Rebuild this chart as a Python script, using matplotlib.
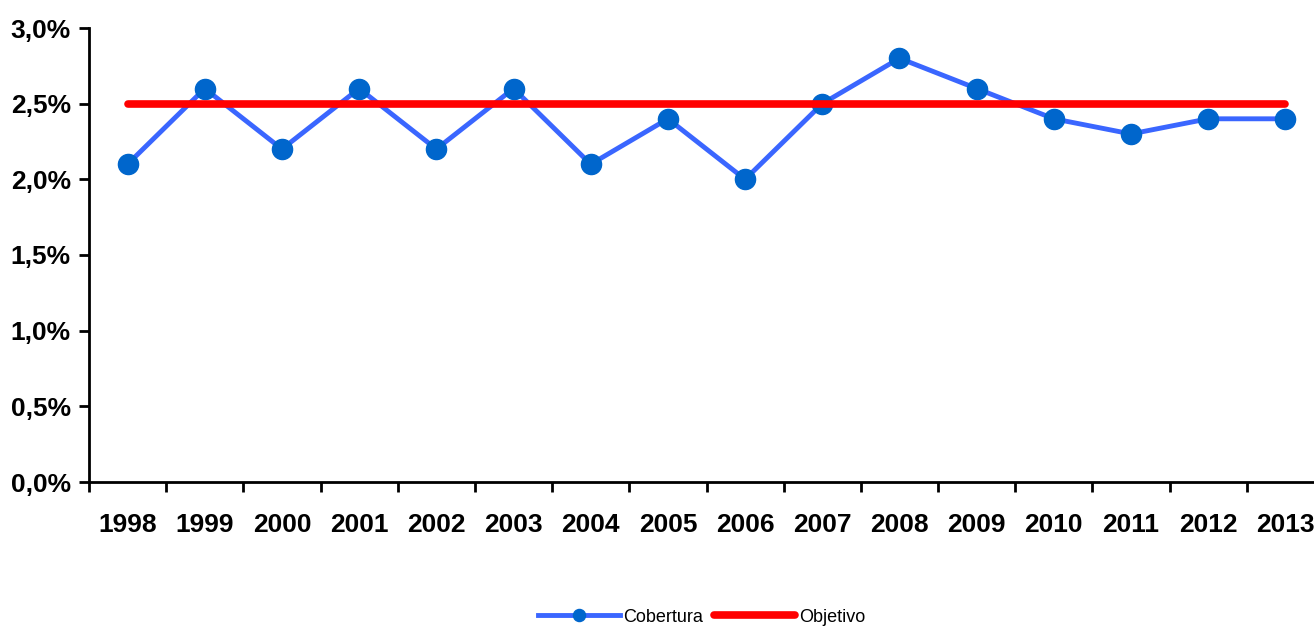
import matplotlib.pyplot as plt
from matplotlib.ticker import FuncFormatter

plt.rcParams['font.family'] = ['Liberation Sans', 'DejaVu Sans']

# Data
years = ['1998', '1999', '2000', '2001', '2002', '2003', '2004', '2005',
         '2006', '2007', '2008', '2009', '2010', '2011', '2012', '2013']
cobertura = [2.1, 2.6, 2.2, 2.6, 2.2, 2.6, 2.1, 2.4, 2.0, 2.5, 2.8, 2.6, 2.4, 2.3, 2.4, 2.4]
objetivo = [2.5] * len(years)

fig = plt.figure(figsize=(13.14, 6.3), dpi=100)
ax = fig.add_axes([89 / 1314, 148 / 630, 1235 / 1314, 454 / 630])

x = range(len(years))
ax.plot(x, cobertura, color='#3A66FF', lw=3.5, marker='o', markersize=14.5,
        markerfacecolor='#0066CC', markeredgecolor='#0066CC', label='Cobertura', zorder=3)
ax.plot(x, objetivo, color='#FF0000', lw=5.5, solid_capstyle='round', label='Objetivo', zorder=4)

ax.set_xlim(-0.5, len(years) - 0.5)
ax.set_ylim(0, 3.0)
ax.set_yticks([0, 0.5, 1.0, 1.5, 2.0, 2.5, 3.0])
ax.yaxis.set_major_formatter(FuncFormatter(lambda v, p: f'{v:.1f}%'.replace('.', ',')))
ax.set_xticks([i - 0.5 for i in range(len(years) + 1)])
ax.set_xticklabels([])
ax.set_xticks(list(x), minor=True)
ax.set_xticklabels(years, minor=True)

for s in ['top', 'right']:
    ax.spines[s].set_visible(False)
for s in ['left', 'bottom']:
    ax.spines[s].set_linewidth(2)

ax.tick_params(axis='y', which='major', direction='out', length=7, width=2,
               labelsize=19, pad=6)
ax.tick_params(axis='x', which='major', direction='out', length=7, width=2)
ax.tick_params(axis='x', which='minor', length=0, labelsize=19, pad=22)
for lab in ax.get_yticklabels() + ax.get_xticklabels(minor=True):
    lab.set_fontweight('bold')

fig.legend(loc='center', bbox_to_anchor=(0.534, 13 / 630), ncol=2, frameon=False,
           fontsize=13, handlelength=4.5, handletextpad=0.2, columnspacing=0.6,
           markerscale=0.6)

fig.savefig('out.png', dpi=100)
